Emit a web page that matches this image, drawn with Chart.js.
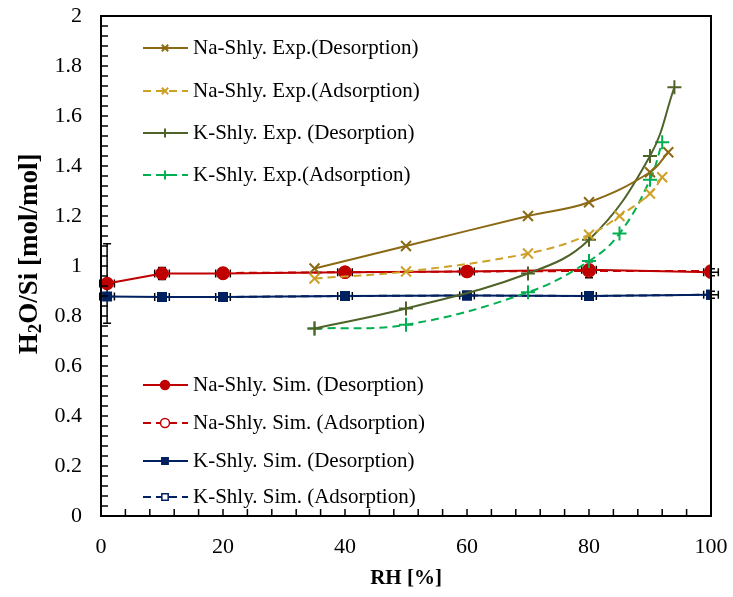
<!DOCTYPE html>
<html>
<head>
<meta charset="utf-8">
<script src="https://cdn.jsdelivr.net/npm/chart.js@4.4.0/dist/chart.umd.min.js"></script>
<style>
    html, body { margin: 0; padding: 0; background: #fff; }
    #wrap { width: 733px; height: 597px; }
</style>
</head>
<body>
<div id="wrap"><canvas id="h2o-chart"></canvas></div>
<script>
// Valores (RH [%] vs H2O/Si [mol/mol])
const naExpDesX = [35, 50, 70, 80, 90, 93];
const naExpDesY = [0.99, 1.08, 1.20, 1.255, 1.375, 1.455];
const naExpAdsX = [35, 50, 70, 80, 85, 90, 92];
const naExpAdsY = [0.95, 0.978, 1.05, 1.125, 1.20, 1.29, 1.355];
const kExpDesX = [35, 50, 70, 80, 90, 94];
const kExpDesY = [0.75, 0.83, 0.97, 1.105, 1.44, 1.715];
const kExpAdsX = [35, 50, 70, 80, 85, 90, 92];
const kExpAdsY = [0.75, 0.765, 0.895, 1.02, 1.13, 1.345, 1.495];

const naSimDesX = [1, 10, 20, 40, 60, 80, 100];
const naSimDesY = [0.93, 0.97, 0.97, 0.975, 0.978, 0.985, 0.975];
const naSimDesErr = [0.155, 0.02, 0.015, 0.01, 0.01, 0.028, 0.01];
const naSimAdsX = [20, 40, 60, 80, 100];
const naSimAdsY = [0.972, 0.975, 0.978, 0.98, 0.98];
const kSimDesX = [1, 10, 20, 40, 60, 80, 100];
const kSimDesY = [0.878, 0.876, 0.876, 0.88, 0.882, 0.88, 0.885];
const kSimDesErr = [0.01, 0.01, 0.01, 0.01, 0.01, 0.01, 0.01];
const kSimAdsX = [20, 40, 60, 80, 100];
const kSimAdsY = [0.876, 0.88, 0.882, 0.88, 0.885];

const xTicks = [0, 20, 40, 60, 80, 100];
const yTicks = [0, 0.2, 0.4, 0.6, 0.8, 1, 1.2, 1.4, 1.6, 1.8, 2];

const legendLabels = [
    'Na-Shly. Exp.(Desorption)',
    'Na-Shly. Exp.(Adsorption)',
    'K-Shly. Exp. (Desorption)',
    'K-Shly. Exp.(Adsorption)',
    'Na-Shly. Sim. (Desorption)',
    'Na-Shly. Sim. (Adsorption)',
    'K-Shly. Sim. (Desorption)',
    'K-Shly. Sim. (Adsorption)'
];

const toPoints = (xs, ys) => xs.map((x, i) => ({ x: x, y: ys[i] }));
const serif = '"Liberation Serif", "Times New Roman", serif';

function makeSet(i, xs, ys, color, style, dashed, smooth, filled) {
    const solid = style === 'circle' || style === 'rect';
    return {
        label: legendLabels[i],
        data: toPoints(xs, ys),
        borderColor: color,
        backgroundColor: filled ? color : '#ffffff',
        pointBackgroundColor: filled ? color : '#ffffff',
        pointBorderColor: color,
        pointStyle: style,
        pointRadius: solid ? 6 : 7,
        pointBorderWidth: solid ? 1.5 : 2,
        borderWidth: 2,
        borderDash: dashed ? [8, 5] : [],
        tension: smooth ? 0.4 : 0,
        fill: false
    };
}

// a ordem define o empilhamento: o primeiro fica por cima
const datasets = [
    makeSet(0, naExpDesX, naExpDesY, '#8B6914', 'crossRot', false, true, true),
    makeSet(1, naExpAdsX, naExpAdsY, '#CDA026', 'crossRot', true, true, true),
    makeSet(2, kExpDesX, kExpDesY, '#4F6228', 'cross', false, true, true),
    makeSet(3, kExpAdsX, kExpAdsY, '#00B050', 'cross', true, true, true),
    makeSet(4, naSimDesX, naSimDesY, '#C00000', 'circle', false, false, true),
    makeSet(5, naSimAdsX, naSimAdsY, '#C00000', 'circle', true, false, false),
    makeSet(6, kSimDesX, kSimDesY, '#002060', 'rect', false, false, true),
    makeSet(7, kSimAdsX, kSimAdsY, '#002060', 'rect', true, false, false)
];

// Barras de erro das simulações, moldura, ticks internos e legenda
const extrasPlugin = {
    id: 'extras',
    beforeDatasetsDraw(chart) {
        const ctx = chart.ctx;
        const xs = chart.scales.x, ys = chart.scales.y;
        const bars = [[naSimDesX, naSimDesY, naSimDesErr], [kSimDesX, kSimDesY, kSimDesErr]];
        ctx.save();
        ctx.strokeStyle = '#000';
        ctx.lineWidth = 1.5;
        bars.forEach(([bx, by, be]) => {
            bx.forEach((x, i) => {
                const px = xs.getPixelForValue(x);
                const py = ys.getPixelForValue(by[i]);
                const top = ys.getPixelForValue(by[i] + be[i]);
                const bot = ys.getPixelForValue(by[i] - be[i]);
                const l = xs.getPixelForValue(x - 1.2), r = xs.getPixelForValue(x + 1.2);
                ctx.beginPath();
                ctx.moveTo(px, top - 1); ctx.lineTo(px, bot + 1);
                ctx.moveTo(px - 4, top - 1); ctx.lineTo(px + 4, top - 1);
                ctx.moveTo(px - 4, bot + 1); ctx.lineTo(px + 4, bot + 1);
                ctx.moveTo(l, py); ctx.lineTo(r, py);
                ctx.moveTo(l, py - 4); ctx.lineTo(l, py + 4);
                ctx.moveTo(r, py - 4); ctx.lineTo(r, py + 4);
                ctx.stroke();
            });
        });
        ctx.restore();
    },
    afterDraw(chart) {
        const ctx = chart.ctx;
        const a = chart.chartArea;
        const xs = chart.scales.x, ys = chart.scales.y;
        ctx.save();
        ctx.strokeStyle = '#000';
        ctx.lineWidth = 2;
        ctx.strokeRect(a.left, a.top, a.right - a.left, a.bottom - a.top);
        ctx.lineWidth = 1.5;
        ctx.beginPath();
        for (let v = 0; v <= 100; v += 4) {
            const px = xs.getPixelForValue(v);
            ctx.moveTo(px, a.bottom); ctx.lineTo(px, a.bottom - 7);
        }
        for (let k = 0; k <= 50; k++) {
            const py = ys.getPixelForValue(k * 0.04);
            ctx.moveTo(a.left, py); ctx.lineTo(a.left + 7, py);
        }
        ctx.stroke();

        // título do eixo y com subscrito
        ctx.fillStyle = '#000';
        ctx.translate(30, (a.top + a.bottom) / 2 - 12);
        ctx.rotate(-Math.PI / 2);
        ctx.textBaseline = 'middle';
        const big = 'bold 27px ' + serif, small = 'bold 19px ' + serif;
        ctx.font = big;
        const wH = ctx.measureText('H').width;
        const wRest = ctx.measureText('O/Si [mol/mol]').width;
        ctx.font = small;
        const w2 = ctx.measureText('2').width;
        let x0 = -(wH + w2 + wRest) / 2;
        ctx.font = big;
        ctx.fillText('H', x0, 0);
        ctx.font = small;
        ctx.fillText('2', x0 + wH, 6);
        ctx.font = big;
        ctx.fillText('O/Si [mol/mol]', x0 + wH + w2, 0);
        ctx.restore();

        // legenda em dois grupos
        const rows = [[0, 48], [1, 91], [2, 133], [3, 175], [4, 385], [5, 423], [6, 461], [7, 497]];
        ctx.save();
        ctx.font = '21px ' + serif;
        ctx.textBaseline = 'middle';
        rows.forEach(([di, y]) => {
            const ds = chart.data.datasets[di];
            ctx.strokeStyle = ds.borderColor;
            ctx.lineWidth = 2;
            ctx.setLineDash(ds.borderDash);
            ctx.beginPath();
            ctx.moveTo(143, y); ctx.lineTo(188, y);
            ctx.stroke();
            ctx.setLineDash([]);
            ctx.fillStyle = ds.pointBackgroundColor;
            ctx.strokeStyle = ds.pointBorderColor;
            ctx.lineWidth = ds.pointBorderWidth;
            Chart.helpers.drawPoint(ctx, { pointStyle: ds.pointStyle, radius: 4.5, borderWidth: ds.pointBorderWidth, rotation: 0 }, 165, y);
            ctx.fillStyle = '#000';
            ctx.fillText(ds.label, 193, y);
        });
        ctx.restore();
    }
};

const ctx = document.getElementById('h2o-chart').getContext('2d');
new Chart(ctx, {
    type: 'line',
    data: { datasets: datasets },
    options: {
        responsive: true,
        maintainAspectRatio: false,
        animation: false,
        layout: { padding: { top: 16, right: 22, left: 0, bottom: 0 } },
        plugins: { legend: { display: false }, tooltip: { enabled: false } },
        scales: {
            x: {
                type: 'linear',
                min: 0, max: 100,
                afterFit: (s) => { s.height = 81; s.paddingLeft = 0; s.paddingRight = 0; },
                afterBuildTicks: (s) => { s.ticks = xTicks.map(v => ({ value: v })); },
                grid: { display: false, drawTicks: false },
                border: { display: false },
                ticks: { color: '#000', padding: 18, font: { family: serif, size: 22 } },
                title: {
                    display: true, text: 'RH [%]', color: '#000',
                    font: { family: serif, size: 21, weight: 'bold' },
                    padding: { top: 0, bottom: 6 }
                }
            },
            y: {
                type: 'linear',
                min: 0, max: 2,
                afterFit: (s) => { s.width = 101; s.paddingTop = 0; s.paddingBottom = 0; },
                afterBuildTicks: (s) => { s.ticks = yTicks.map(v => ({ value: v })); },
                grid: { display: false, drawTicks: false },
                border: { display: false },
                ticks: {
                    color: '#000', padding: 19, font: { family: serif, size: 22 },
                    callback: (v) => String(+v.toFixed(2))
                }
            }
        }
    },
    plugins: [extrasPlugin]
});
</script>
</body>
</html>
